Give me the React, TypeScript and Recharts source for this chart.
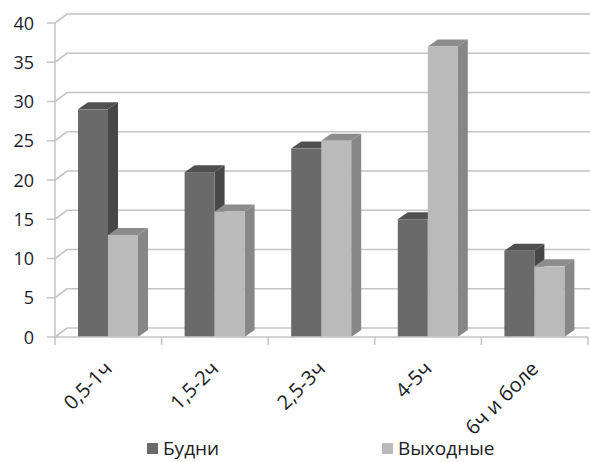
import { BarChart, Bar, XAxis, YAxis, CartesianGrid } from 'recharts';

const categories = ['0,5-1ч', '1,5-2ч', '2,5-3ч', '4-5ч', '6ч и боле'];
const weekdays = [29, 21, 24, 15, 11];
const weekends = [13, 16, 25, 37, 9];
const yTicks = [0, 5, 10, 15, 20, 25, 30, 35, 40];

const data = categories.map((name, i) => ({ name, weekdays: weekdays[i], weekends: weekends[i] }));

const W = 590;
const H = 462;
const LEFT = 55;
const RIGHT = 2;
const TOP = 23;
const BOTTOM_Y = 337;
const BAND = (W - LEFT - RIGHT) / categories.length;

// 3D depth of walls and of the bars
const WALL_DX = 12;
const WALL_DY = -9;
const BAR_DX = 10;
const BAR_DY = -7;

const FONT = '"Open Sans", sans-serif';
const GRID = '#c4c4c4';

const makeBox = (front: string, top: string, side: string) => (props: any) => {
  const { x, y, width, height } = props;
  if (height == null || height <= 0) return null;
  const r = x + width;
  const b = y + height;
  return (
    <g>
      <polygon
        points={`${r},${y} ${r + BAR_DX},${y + BAR_DY} ${r + BAR_DX},${b + BAR_DY} ${r},${b}`}
        fill={side}
      />
      <polygon
        points={`${x},${y} ${x + BAR_DX},${y + BAR_DY} ${r + BAR_DX},${y + BAR_DY} ${r},${y}`}
        fill={top}
      />
      <rect x={x} y={y} width={width} height={height} fill={front} />
    </g>
  );
};

const darkBox = makeBox('#6a6a6a', '#505050', '#474747');
const lightBox = makeBox('#bababa', '#8c8c8c', '#878787');

const gridLine = (props: any) => {
  const { x1, y1, key } = props;
  return (
    <path
      key={key}
      d={`M${x1},${y1} L${x1 + WALL_DX},${y1 + WALL_DY} L${W + 20},${y1 + WALL_DY}`}
      stroke={GRID}
      strokeWidth={1.6}
      fill="none"
    />
  );
};

const XTick = (props: any) => {
  const { x, index, payload } = props;
  const tx = x + 5;
  const ty = BOTTOM_Y + 33;
  return (
    <g>
      <line x1={x - BAND / 2} y1={BOTTOM_Y} x2={x - BAND / 2} y2={BOTTOM_Y + 8} stroke={GRID} strokeWidth={1.5} />
      {index === categories.length - 1 && (
        <line x1={x + BAND / 2} y1={BOTTOM_Y} x2={x + BAND / 2} y2={BOTTOM_Y + 8} stroke={GRID} strokeWidth={1.5} />
      )}
      <text
        x={tx}
        y={ty}
        textAnchor="end"
        transform={`rotate(-45, ${tx}, ${ty})`}
        fontFamily={FONT}
        fontSize={20}
        fill="#1c1c24"
      >
        {payload.value}
      </text>
    </g>
  );
};

const YTick = (props: any) => {
  const { y, payload } = props;
  return (
    <text x={34} y={y} dy={6.5} textAnchor="end" fontFamily={FONT} fontSize={18} fill="#1c1c2a">
      {payload.value}
    </text>
  );
};

const legendItems = [
  { label: 'Будни', color: '#6a6a6a', left: 147 },
  { label: 'Выходные', color: '#bababa', left: 382 },
];

export default function App() {
  return (
    <div style={{ position: 'absolute', left: 0, top: 0, width: W, height: H, background: '#fff', overflow: 'hidden' }}>
      <BarChart
        width={W}
        height={H}
        data={data}
        margin={{ top: TOP, right: RIGHT, left: 0, bottom: H - BOTTOM_Y - 80 }}
        barGap={0}
        barSize={30}
      >
        <CartesianGrid vertical={false} horizontal={gridLine} />
        <XAxis
          dataKey="name"
          height={80}
          interval={0}
          tickLine={false}
          axisLine={{ stroke: GRID, strokeWidth: 1.5 }}
          tick={<XTick />}
        />
        <YAxis
          width={LEFT}
          domain={[0, 40]}
          ticks={yTicks}
          interval={0}
          tickSize={8}
          tickLine={{ stroke: GRID, strokeWidth: 1.5 }}
          axisLine={{ stroke: GRID, strokeWidth: 1.5 }}
          tick={<YTick />}
        />
        <Bar dataKey="weekdays" name="Будни" fill="#6a6a6a" shape={darkBox} isAnimationActive={false} />
        <Bar dataKey="weekends" name="Выходные" fill="#bababa" shape={lightBox} isAnimationActive={false} />
      </BarChart>
      {legendItems.map((it) => (
        <div
          key={it.label}
          style={{
            position: 'absolute',
            left: it.left,
            top: 436,
            height: 25,
            display: 'flex',
            alignItems: 'center',
            fontFamily: FONT,
            fontSize: 19,
            color: '#1c1c24',
            lineHeight: '25px',
          }}
        >
          <span style={{ display: 'inline-block', width: 11, height: 11, background: it.color, marginRight: 5 }} />
          {it.label}
        </div>
      ))}
    </div>
  );
}
